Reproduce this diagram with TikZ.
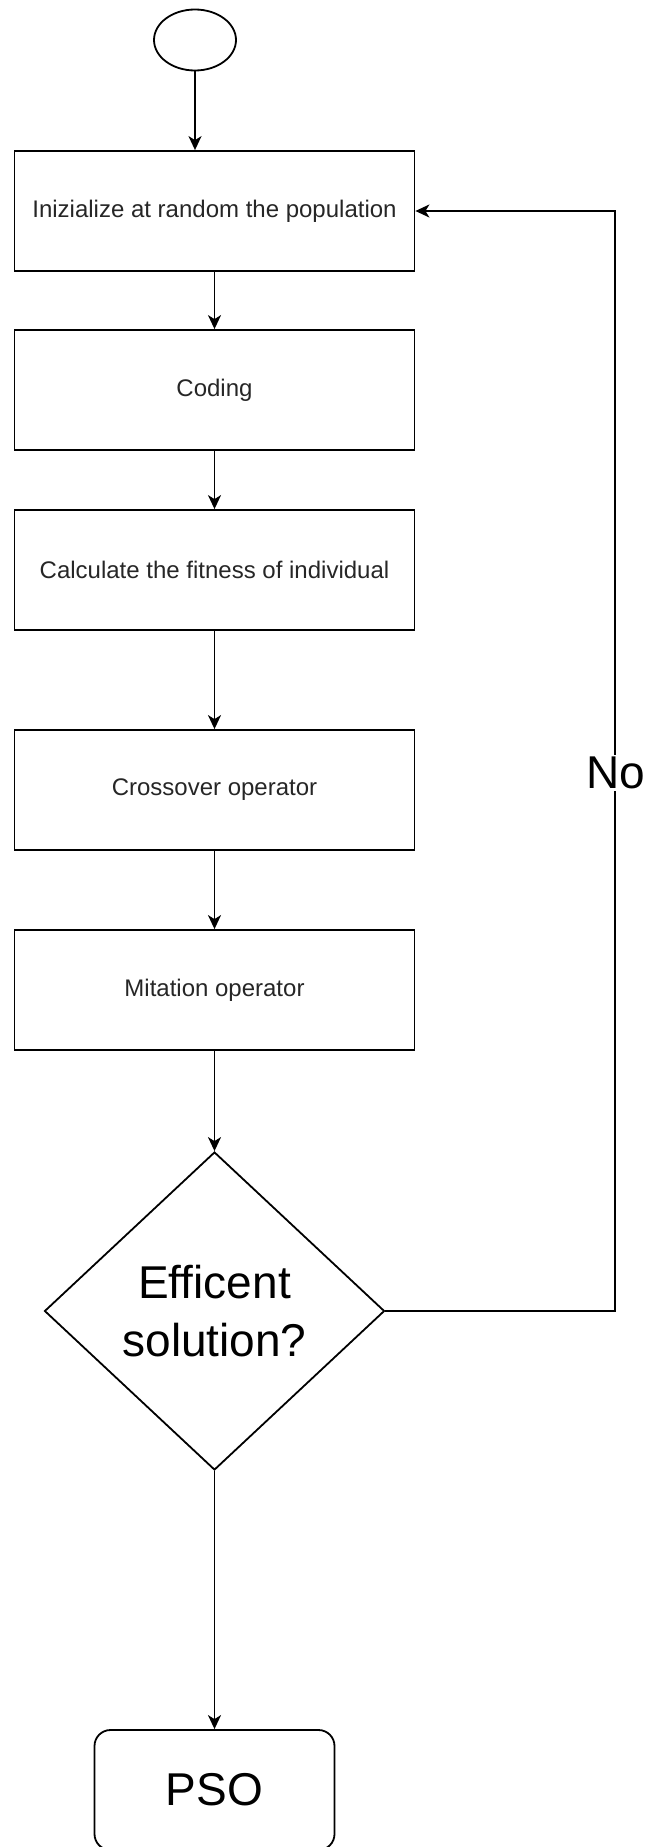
\documentclass[tikz,border=0pt]{standalone}
\usepackage{fontspec}
\setmainfont{Liberation Sans}
\usetikzlibrary{shapes.geometric,arrows.meta}
\begin{document}
\begin{tikzpicture}[x=1pt,y=-1pt,
  line width=1.8pt,
  stepbox/.style={draw, rectangle, minimum width=400pt, minimum height=120pt,
    inner sep=0pt, font=\fontsize{24}{29}\selectfont, text=black!85},
  bigtext/.style={font=\fontsize{46}{58}\selectfont},
  flow/.style={-{Stealth[length=14pt,width=13pt,inset=4pt]}}
]
\useasboundingbox (0,0) rectangle (648,1847);

% start terminal
\node[draw, ellipse, minimum width=82pt, minimum height=61pt, inner sep=0pt] (start) at (195,40) {};

% process steps
\node[stepbox] (init)  at (214.5,211) {Inizialize at random the population};
\node[stepbox] (code)  at (214.5,390) {Coding};
\node[stepbox] (fit)   at (214.5,570) {Calculate the fitness of individual};
\node[stepbox] (cross) at (214.5,790) {Crossover operator};
\node[stepbox] (mut)   at (214.5,990) {Mitation operator};

% decision
\node[draw, diamond, minimum width=340pt, minimum height=318pt, inner sep=0pt,
      bigtext, align=center] (dec) at (214.5,1311) {Efficent\\solution?};

% end terminal
\node[draw, rounded corners=16pt, minimum width=240pt, minimum height=120pt,
      inner sep=0pt, bigtext] (pso) at (214.5,1790) {PSO};

% main flow
\draw[flow] (start.south) -- (start.south |- init.north);
\draw[flow] (init) -- (code);
\draw[flow] (code) -- (fit);
\draw[flow] (fit) -- (cross);
\draw[flow] (cross) -- (mut);
\draw[flow] (mut) -- (dec);
\draw[flow] (dec) -- (pso);

% loop back when the solution is not good enough
\coordinate (loop) at (615,0);
\draw[flow] (dec.east) -- (dec.east -| loop) -- (init.east -| loop) -- (init.east);
\node[fill=white, inner sep=2pt, bigtext] (no) at (615.5,773) {No};

\end{tikzpicture}
\end{document}
